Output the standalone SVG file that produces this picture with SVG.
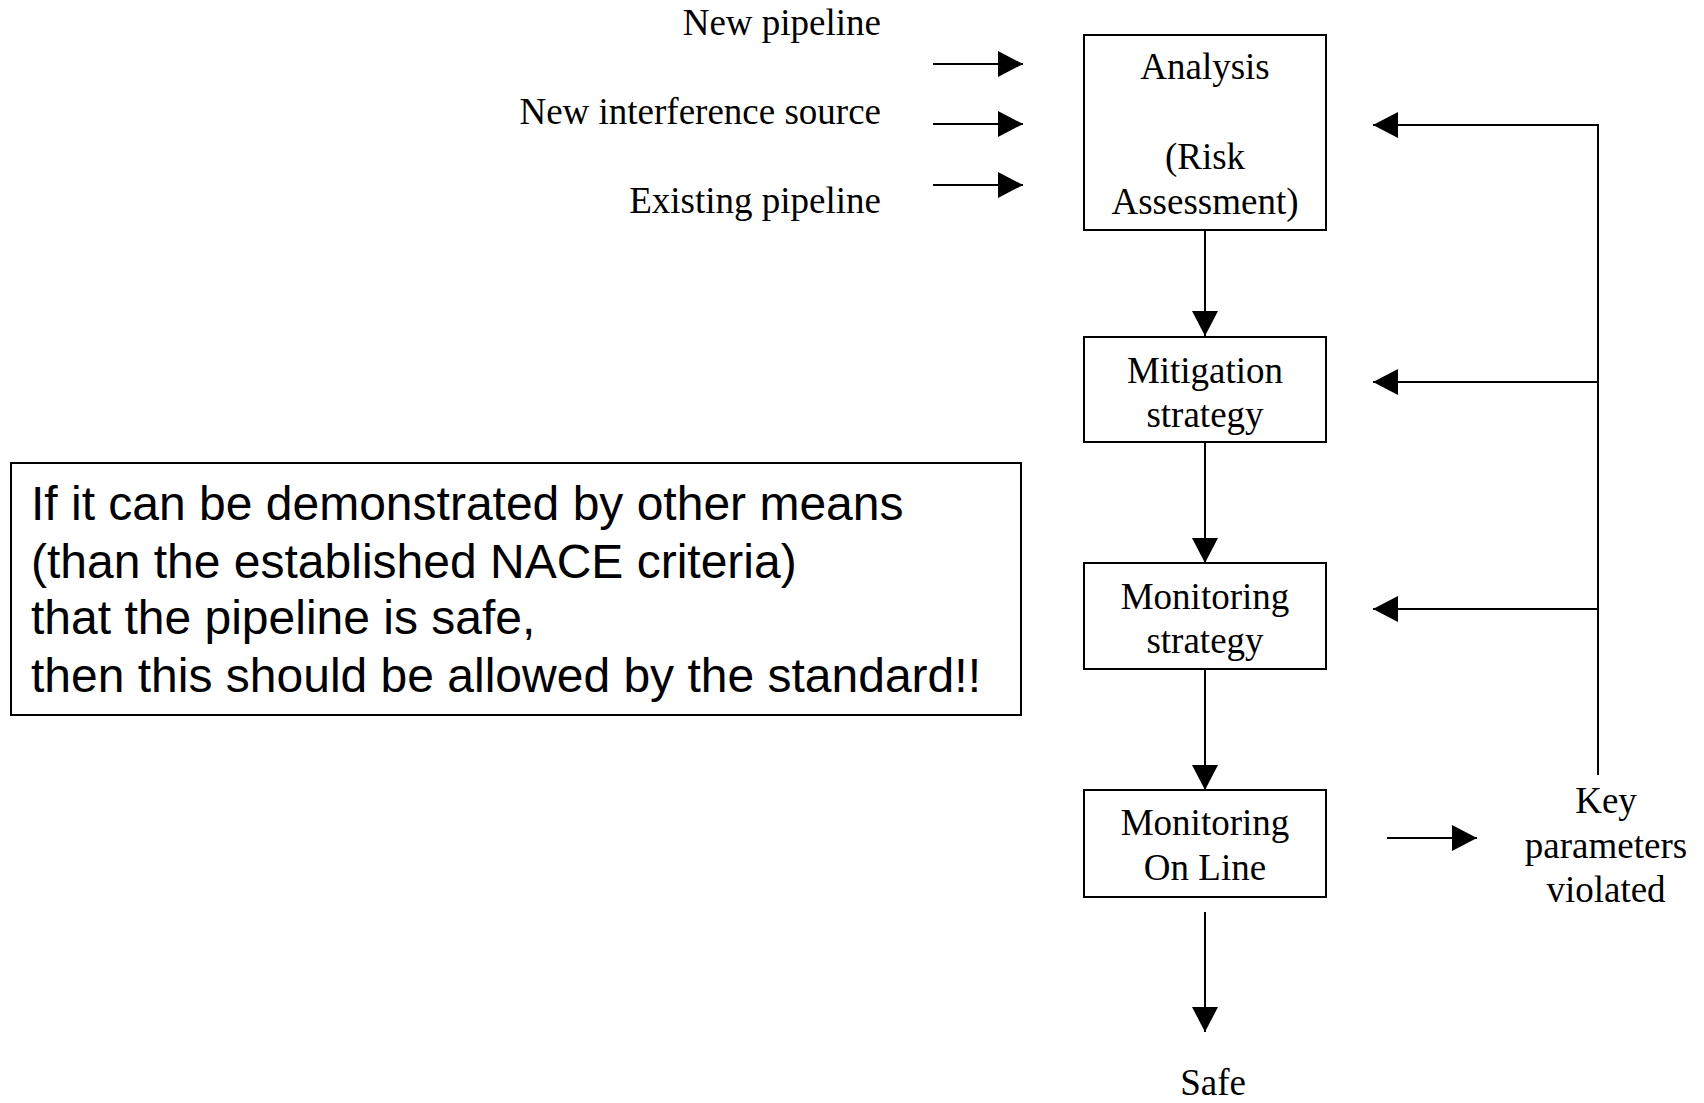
<svg xmlns="http://www.w3.org/2000/svg" width="1704" height="1103" viewBox="0 0 1704 1103">
  <style>
    .box { fill: #ffffff; stroke: #000000; stroke-width: 2; }
    .serif { font-family: "Liberation Serif", "Times New Roman", serif; font-size: 37px; fill: #000000; }
    .mid { text-anchor: middle; }
    .end { text-anchor: end; }
    .note { font-family: "Liberation Sans", Arial, sans-serif; font-size: 48px; fill: #000000; }
    .conn { stroke: #000000; stroke-width: 2; fill: none; }
    .arrow { marker-end: url(#head); }
  </style>
  <defs>
    <marker id="head" markerUnits="userSpaceOnUse" markerWidth="26" markerHeight="26" refX="25" refY="13" orient="auto">
      <path d="M0,0 L25,13 L0,26 Z" fill="#000000"/>
    </marker>
  </defs>
  <rect width="1704" height="1103" fill="#ffffff"/>

  <!-- input labels -->
  <g id="inputs">
    <text class="serif end" x="881" y="35">New pipeline</text>
    <text class="serif end" x="881" y="124">New interference source</text>
    <text class="serif end" x="881" y="213">Existing pipeline</text>
  </g>

  <!-- process boxes -->
  <g id="analysis">
    <rect class="box" x="1084" y="35" width="242" height="195"/>
    <text class="serif mid" x="1205" y="79">Analysis</text>
    <text class="serif mid" x="1205" y="169">(Risk</text>
    <text class="serif mid" x="1205" y="214">Assessment)</text>
  </g>
  <g id="mitigation">
    <rect class="box" x="1084" y="337" width="242" height="105"/>
    <text class="serif mid" x="1205" y="383">Mitigation</text>
    <text class="serif mid" x="1205" y="427">strategy</text>
  </g>
  <g id="monitoring-strategy">
    <rect class="box" x="1084" y="563" width="242" height="106"/>
    <text class="serif mid" x="1205" y="609">Monitoring</text>
    <text class="serif mid" x="1205" y="653">strategy</text>
  </g>
  <g id="monitoring-online">
    <rect class="box" x="1084" y="790" width="242" height="107"/>
    <text class="serif mid" x="1205" y="835">Monitoring</text>
    <text class="serif mid" x="1205" y="880">On Line</text>
  </g>
  <g id="violated">
    <text class="serif mid" x="1606" y="813">Key</text>
    <text class="serif mid" x="1606" y="858">parameters</text>
    <text class="serif mid" x="1606" y="902">violated</text>
  </g>
  <g id="safe">
    <text class="serif mid" x="1213" y="1095">Safe</text>
  </g>

  <!-- remark box -->
  <g id="remark">
    <rect class="box" x="11" y="463" width="1010" height="252"/>
    <text class="note" x="31" y="520">If it can be demonstrated by other means</text>
    <text class="note" x="31" y="578">(than the established NACE criteria)</text>
    <text class="note" x="31" y="634">that the pipeline is safe,</text>
    <text class="note" x="31" y="692">then this should be allowed by the standard!!</text>
  </g>

  <!-- connectors -->
  <g id="connectors">
    <line class="conn arrow" x1="933" y1="64" x2="1023" y2="64"/>
    <line class="conn arrow" x1="933" y1="124" x2="1023" y2="124"/>
    <line class="conn arrow" x1="933" y1="185" x2="1023" y2="185"/>

    <line class="conn arrow" x1="1205" y1="230" x2="1205" y2="336"/>
    <line class="conn arrow" x1="1205" y1="442" x2="1205" y2="563"/>
    <line class="conn arrow" x1="1205" y1="669" x2="1205" y2="790"/>
    <line class="conn arrow" x1="1205" y1="912" x2="1205" y2="1032"/>

    <line class="conn arrow" x1="1387" y1="838" x2="1477" y2="838"/>

    <line class="conn" x1="1598" y1="775" x2="1598" y2="124"/>
    <line class="conn arrow" x1="1598" y1="125" x2="1373" y2="125"/>
    <line class="conn arrow" x1="1598" y1="382" x2="1373" y2="382"/>
    <line class="conn arrow" x1="1598" y1="609" x2="1373" y2="609"/>
  </g>
</svg>
